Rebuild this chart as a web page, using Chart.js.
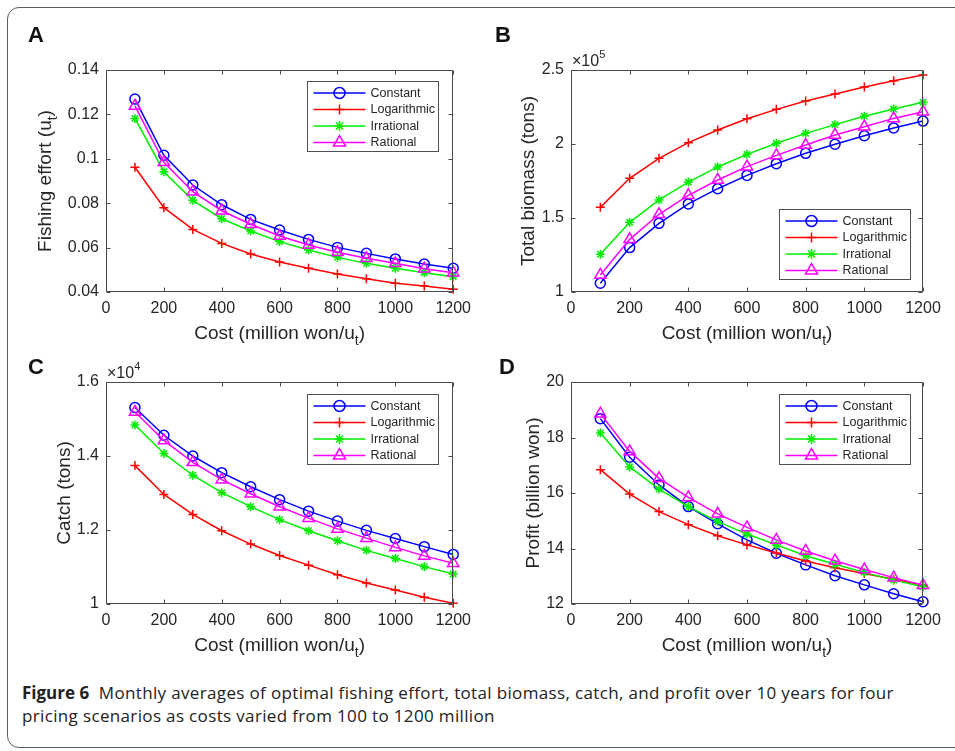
<!DOCTYPE html>
<html>
<head>
<meta charset="utf-8">
<script src="https://cdn.jsdelivr.net/npm/chart.js@4/dist/chart.umd.min.js"></script>
<style>
  body { margin: 0; background: #fff; width: 955px; height: 751px; overflow: hidden; position: relative; }
  .frame { position: absolute; left: 7px; top: 7px; width: 990px; height: 739px; border: 1.5px solid #5e5e5e; border-radius: 12px; }
  .panel { position: absolute; }
  .letter { position: absolute; font: bold 22px 'Liberation Sans', Arial, sans-serif; line-height: 22px; color: #111; }
  .caption { position: absolute; left: 22px; top: 681px; font: 17px 'Open Sans', 'Noto Sans', sans-serif; letter-spacing: 0.35px; line-height: 23px; color: #222; white-space: nowrap; }
  .caption b { font-weight: 700; letter-spacing: 0; }
</style>
</head>
<body>
<div class="frame"></div>
<canvas id="cA" class="panel" width="478" height="345" style="left:0;top:0"></canvas>
<canvas id="cB" class="panel" width="477" height="345" style="left:478px;top:0"></canvas>
<canvas id="cC" class="panel" width="478" height="312" style="left:0;top:345px"></canvas>
<canvas id="cD" class="panel" width="477" height="312" style="left:478px;top:345px"></canvas>
<div class="letter" style="left:28px;top:24px">A</div>
<div class="letter" style="left:495px;top:24px">B</div>
<div class="letter" style="left:28px;top:356px">C</div>
<div class="letter" style="left:499px;top:356px">D</div>
<div class="caption"><b>Figure 6</b>&nbsp; Monthly averages of optimal fishing effort, total biomass, catch, and profit over 10 years for four<br>pricing scenarios as costs varied from 100 to 1200 million</div>

<script>
// Cost values on the x axis (million won/u_t)
const costs = [100, 200, 300, 400, 500, 600, 700, 800, 900, 1000, 1100, 1200];
const seriesNames = ['Constant', 'Logarithmic', 'Irrational', 'Rational'];

// A: fishing effort (u_t)
const effortConstant    = [0.1269, 0.1016, 0.0882, 0.0793, 0.0727, 0.0679, 0.0637, 0.0601, 0.0574, 0.0549, 0.0526, 0.0507];
const effortLogarithmic = [0.0962, 0.0780, 0.0682, 0.0619, 0.0571, 0.0535, 0.0507, 0.0481, 0.0460, 0.0439, 0.0427, 0.0412];
const effortIrrational  = [0.1182, 0.0942, 0.0813, 0.0730, 0.0675, 0.0627, 0.0589, 0.0556, 0.0529, 0.0507, 0.0487, 0.0469];
const effortRational    = [0.1238, 0.0984, 0.0852, 0.0766, 0.0705, 0.0652, 0.0612, 0.0579, 0.0552, 0.0529, 0.0505, 0.0487];

// B: total biomass (tons)
const biomassConstant    = [105900, 130000, 146400, 159500, 169800, 178800, 186700, 193700, 199800, 205600, 210800, 215500];
const biomassLogarithmic = [157200, 176800, 190300, 200900, 209500, 217100, 223400, 229100, 233800, 238500, 242800, 246600];
const biomassIrrational  = [125500, 147100, 162200, 174300, 184500, 193000, 200500, 207200, 213100, 218700, 223600, 228200];
const biomassRational    = [111500, 135600, 152500, 165300, 175700, 184700, 192300, 199300, 206100, 211700, 217300, 221800];

// C: catch (tons)
const catchConstant    = [15310, 14560, 14000, 13550, 13170, 12820, 12510, 12240, 11990, 11770, 11550, 11340];
const catchLogarithmic = [13740, 12960, 12420, 11980, 11620, 11310, 11050, 10790, 10570, 10380, 10180, 10020];
const catchIrrational  = [14840, 14070, 13480, 13010, 12630, 12280, 11980, 11710, 11450, 11230, 11010, 10810];
const catchRational    = [15190, 14420, 13830, 13360, 12980, 12630, 12320, 12030, 11780, 11530, 11300, 11100];

// D: profit (billion won)
const profitConstant    = [18.68, 17.29, 16.29, 15.51, 14.89, 14.31, 13.83, 13.41, 13.02, 12.69, 12.37, 12.08];
const profitLogarithmic = [16.84, 15.96, 15.33, 14.86, 14.46, 14.13, 13.84, 13.55, 13.31, 13.10, 12.89, 12.68];
const profitIrrational  = [18.16, 16.94, 16.14, 15.51, 14.97, 14.52, 14.13, 13.74, 13.43, 13.14, 12.86, 12.62];
const profitRational    = [18.86, 17.50, 16.53, 15.84, 15.25, 14.76, 14.31, 13.91, 13.56, 13.24, 12.95, 12.68];

const FONT = "'Liberation Sans', Arial, sans-serif";
const TEXT_COLOR = '#262626';
const AXIS_COLOR = '#4a4a4a';

// marker look for each scenario (matlab style: o, +, *, ^)
const seriesStyles = [
    { color: '#0000ff', marker: 'circle',   radius: 5,   legendRadius: 5.5 },
    { color: '#ff0000', marker: 'cross',    radius: 4.5, legendRadius: 5 },
    { color: '#00ee00', marker: 'star',     radius: 4.5, legendRadius: 5 },
    { color: '#ff00ff', marker: 'triangle', radius: 6.5, legendRadius: 7 }
];

// Draw a marker by hand for the legend
function drawMarker(ctx, marker, x, y, r) {
    ctx.beginPath();
    if (marker === 'circle') {
        ctx.arc(x, y, r, 0, Math.PI * 2);
    } else if (marker === 'cross') {
        ctx.moveTo(x - r, y); ctx.lineTo(x + r, y);
        ctx.moveTo(x, y - r); ctx.lineTo(x, y + r);
    } else if (marker === 'star') {
        const d = r * Math.SQRT1_2;
        ctx.moveTo(x - r, y); ctx.lineTo(x + r, y);
        ctx.moveTo(x, y - r); ctx.lineTo(x, y + r);
        ctx.moveTo(x - d, y - d); ctx.lineTo(x + d, y + d);
        ctx.moveTo(x - d, y + d); ctx.lineTo(x + d, y - d);
    } else if (marker === 'triangle') {
        let a = 0;
        ctx.moveTo(x + Math.sin(a) * r, y - Math.cos(a) * r);
        a += 2 * Math.PI / 3;
        ctx.lineTo(x + Math.sin(a) * r, y - Math.cos(a) * r);
        a += 2 * Math.PI / 3;
        ctx.lineTo(x + Math.sin(a) * r, y - Math.cos(a) * r);
        ctx.closePath();
    }
    ctx.stroke();
}

// Draw text made of parts, some of them subscript / superscript
function drawParts(ctx, parts, x, y, align) {
    let total = 0;
    parts.forEach(p => {
        ctx.font = p.size + 'px ' + FONT;
        p.w = ctx.measureText(p.text).width;
        total += p.w;
    });
    let cx = align === 'center' ? x - total / 2 : x;
    ctx.textAlign = 'left';
    ctx.textBaseline = 'alphabetic';
    parts.forEach(p => {
        ctx.font = p.size + 'px ' + FONT;
        ctx.fillText(p.text, cx, y + (p.dy || 0));
        cx += p.w;
    });
}

// Plugin: matlab like box, inward ticks, axis titles and legend
const matlabAxes = {
    id: 'matlabAxes',
    afterDraw(chart, args, opts) {
        const ctx = chart.ctx;
        const area = chart.chartArea;
        const xs = chart.scales.x;
        const ys = chart.scales.y;
        const L = Math.round(area.left) + 0.5, R = Math.round(area.right) - 0.5;
        const T = Math.round(area.top) + 0.5, B = Math.round(area.bottom) - 0.5;
        ctx.save();

        // box + inward ticks
        ctx.strokeStyle = AXIS_COLOR;
        ctx.lineWidth = 1;
        ctx.beginPath();
        ctx.rect(L, T, R - L, B - T);
        xs.ticks.forEach(t => {
            const px = Math.round(xs.getPixelForValue(t.value)) + 0.5;
            ctx.moveTo(px, B); ctx.lineTo(px, B - 4);
            ctx.moveTo(px, T); ctx.lineTo(px, T + 4);
        });
        ys.ticks.forEach(t => {
            const py = Math.round(ys.getPixelForValue(t.value)) + 0.5;
            ctx.moveTo(L, py); ctx.lineTo(L + 4, py);
            ctx.moveTo(R, py); ctx.lineTo(R - 4, py);
        });
        ctx.stroke();

        ctx.fillStyle = TEXT_COLOR;
        // x title
        drawParts(ctx, [
            { text: 'Cost (million won/u', size: 19 },
            { text: 't', size: 14, dy: 6 },
            { text: ')', size: 19 }
        ], (area.left + area.right) / 2, area.bottom + 46.5, 'center');

        // y title (rotated)
        ctx.save();
        ctx.translate(area.left - opts.yTitleOffset, (area.top + area.bottom) / 2);
        ctx.rotate(-Math.PI / 2);
        drawParts(ctx, opts.yTitle, 0, 0, 'center');
        ctx.restore();

        // exponent label
        if (opts.exponent) {
            drawParts(ctx, [
                { text: '\u00d710', size: 16 },
                { text: opts.exponent, size: 11, dy: -8 }
            ], area.left + 1, area.top - 4, 'left');
        }

        // legend box
        const lg = opts.legend;
        const bw = 131, bh = 70;
        const bx = Math.round(area.right - lg.gapX - bw) + 0.5;
        const by = lg.corner === 'top'
            ? Math.round(area.top + lg.gapY) + 0.5
            : Math.round(area.bottom - lg.gapY - bh) + 0.5;
        ctx.fillStyle = '#fff';
        ctx.fillRect(bx, by, bw, bh);
        ctx.strokeStyle = '#505050';
        ctx.strokeRect(bx, by, bw, bh);
        ctx.font = '12.5px ' + FONT;
        ctx.textBaseline = 'middle';
        seriesNames.forEach((name, i) => {
            const st = seriesStyles[i];
            const ry = by + 11.5 + i * 16.5;
            ctx.strokeStyle = st.color;
            ctx.lineWidth = 1.5;
            ctx.beginPath();
            ctx.moveTo(bx + 6, ry); ctx.lineTo(bx + 58, ry);
            ctx.stroke();
            drawMarker(ctx, st.marker, bx + 32, ry, st.legendRadius);
            ctx.fillStyle = TEXT_COLOR;
            ctx.textAlign = 'left';
            ctx.fillText(name, bx + 63, ry + 0.5);
        });
        ctx.restore();
    }
};

function buildDatasets(seriesList) {
    return seriesList.map((values, i) => {
        const st = seriesStyles[i];
        return {
            label: seriesNames[i],
            data: costs.map((c, k) => ({ x: c, y: values[k] })),
            borderColor: st.color,
            borderWidth: 1.5,
            pointStyle: st.marker,
            pointRadius: st.radius,
            pointBorderColor: st.color,
            pointBackgroundColor: 'rgba(0,0,0,0)',
            pointBorderWidth: 1.5,
            tension: 0,
            clip: false,
            order: 3 - i
        };
    });
}

function makePanel(id, cfg) {
    new Chart(document.getElementById(id), {
        type: 'line',
        data: { datasets: buildDatasets(cfg.series) },
        options: {
            responsive: false,
            animation: false,
            events: [],
            layout: { padding: { left: 0, right: cfg.padRight, top: cfg.padTop, bottom: 0 } },
            scales: {
                x: {
                    type: 'linear',
                    min: 0, max: 1200,
                    ticks: { stepSize: 200, color: TEXT_COLOR, font: { size: 16, family: FONT }, padding: 7, maxRotation: 0,
                             callback: v => String(v) },
                    grid: { display: false, drawTicks: false },
                    border: { display: false },
                    afterFit: s => { s.height = 53; }
                },
                y: {
                    type: 'linear',
                    min: cfg.yMin, max: cfg.yMax,
                    ticks: { stepSize: cfg.yStep, color: TEXT_COLOR, font: { size: 16, family: FONT }, padding: 7,
                             callback: cfg.fmt },
                    grid: { display: false, drawTicks: false },
                    border: { display: false },
                    afterFit: s => { s.width = cfg.yWidth; }
                }
            },
            plugins: {
                legend: { display: false },
                tooltip: { enabled: false },
                matlabAxes: {
                    yTitle: cfg.yTitle,
                    yTitleOffset: cfg.yTitleOffset,
                    exponent: cfg.exponent,
                    legend: cfg.legend
                }
            }
        },
        plugins: [matlabAxes]
    });
}

const t19 = s => ({ text: s, size: 19 });

makePanel('cA', {
    series: [effortConstant, effortLogarithmic, effortIrrational, effortRational],
    yMin: 0.04, yMax: 0.14, yStep: 0.02,
    fmt: v => String(Math.round(v * 100) / 100),
    yWidth: 106, padRight: 19, padTop: 70,
    yTitle: [t19('Fishing effort (u'), { text: 't', size: 14, dy: 6 }, t19(')')],
    yTitleOffset: 55,
    legend: { corner: 'top', gapX: 15, gapY: 11 }
});

makePanel('cB', {
    series: [biomassConstant, biomassLogarithmic, biomassIrrational, biomassRational],
    yMin: 100000, yMax: 250000, yStep: 50000,
    fmt: v => String(Math.round(v / 1e4) / 10),
    yWidth: 93, padRight: 32, padTop: 70,
    yTitle: [t19('Total biomass (tons)')],
    yTitleOffset: 37,
    exponent: '5',
    legend: { corner: 'bottom', gapX: 13, gapY: 13 }
});

makePanel('cC', {
    series: [catchConstant, catchLogarithmic, catchIrrational, catchRational],
    yMin: 10000, yMax: 16000, yStep: 2000,
    fmt: v => String(Math.round(v / 1e3) / 10),
    yWidth: 106, padRight: 19, padTop: 37,
    yTitle: [t19('Catch (tons)')],
    yTitleOffset: 36.5,
    exponent: '4',
    legend: { corner: 'top', gapX: 15, gapY: 12 }
});

makePanel('cD', {
    series: [profitConstant, profitLogarithmic, profitIrrational, profitRational],
    yMin: 12, yMax: 20, yStep: 2,
    fmt: v => String(v),
    yWidth: 93, padRight: 32, padTop: 37,
    yTitle: [t19('Profit (billion won)')],
    yTitleOffset: 32.5,
    legend: { corner: 'top', gapX: 13, gapY: 12 }
});
</script>
</body>
</html>
